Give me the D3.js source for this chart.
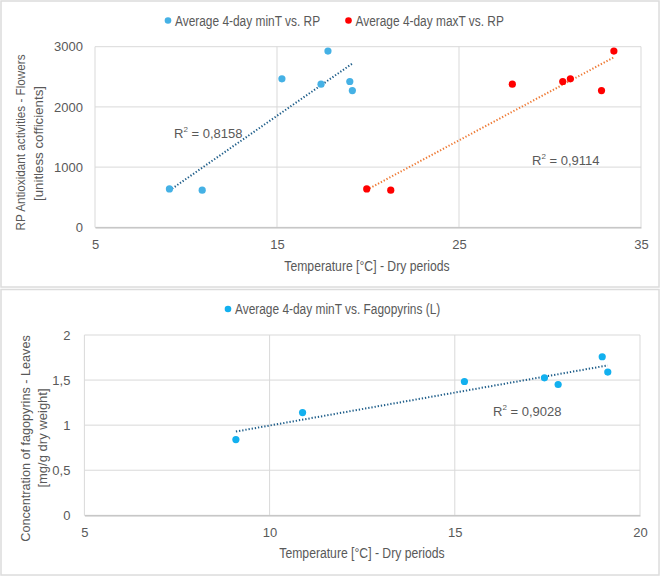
<!doctype html>
<html>
<head>
<meta charset="utf-8">
<script src="https://d3js.org/d3.v7.min.js"></script>
<style>
  body { margin: 0; background: #fff; }
  svg text { fill: #595959; font-family: "Liberation Sans", Arial, sans-serif; }
</style>
</head>
<body>
<script>

  // chart 1 : RP antioxidant activity vs temperature
  var minT1 = [9.09, 10.89, 15.27, 17.42, 17.8, 19.0, 19.14];
  var maxT1 = [19.93, 21.25, 31.12, 27.93, 33.51, 30.70, 32.83];
  var rp1 = [638, 617, 2467, 2377, 2927, 2422, 2272];
  var xTicks1 = [5, 15, 25, 35];
  var yTicks1 = [0, 1000, 2000, 3000];

  // chart 2 : fagopyrins in leaves
  var minT2 = [9.09, 10.89, 15.26, 17.42, 17.79, 18.98, 19.13];
  var fago2 = [0.84, 1.14, 1.484, 1.525, 1.451, 1.759, 1.589];
  var xTicks2 = [5, 10, 15, 20];
  var yTicks2 = [0, 0.5, 1, 1.5, 2];

  var blue = "#45b1e5", blue2 = "#12b0ef", red = "#ff0000";
  var trendBlue = "#1f5e8a", trendOrange = "#ee7a35";
  var grid = "#d9d9d9";

  var W = 662, H = 577;
  var svg = d3.select("body").append("svg").attr("width", W).attr("height", H);

  // chart frames
  svg.append("rect").attr("x", 1).attr("y", 1).attr("width", 658).attr("height", 286)
     .attr("fill", "#fff").attr("stroke", "#dcdcdc").attr("stroke-width", 1.5);
  svg.append("rect").attr("x", 1).attr("y", 289.5).attr("width", 658).attr("height", 285.5)
     .attr("fill", "#fff").attr("stroke", "#dcdcdc").attr("stroke-width", 1.5);

  function fmt(d) { return String(d).replace(".", ","); }

  // squeeze a text to look like excel's narrow font
  function squeeze(sel, k) {
    var len = sel.node().getComputedTextLength();
    sel.attr("textLength", len * k).attr("lengthAdjust", "spacingAndGlyphs");
  }

  function linreg(xs, ys) {
    var n = xs.length, mx = d3.mean(xs), my = d3.mean(ys), sxy = 0, sxx = 0;
    for (var i = 0; i < n; i++) { sxy += (xs[i]-mx)*(ys[i]-my); sxx += (xs[i]-mx)*(xs[i]-mx); }
    var b = sxy / sxx;
    return { a: my - b*mx, b: b };
  }

  function drawPanel(g, cfg) {
    var x = d3.scaleLinear().domain(cfg.xDomain).range(cfg.xRange);
    var y = d3.scaleLinear().domain(cfg.yDomain).range(cfg.yRange);

    // grid
    g.selectAll(".hg").data(cfg.yTicks).enter().append("line")
      .attr("x1", cfg.xRange[0]).attr("x2", cfg.xRange[1])
      .attr("y1", function(d){ return y(d); }).attr("y2", function(d){ return y(d); })
      .attr("stroke", grid).attr("stroke-width", 1);
    g.selectAll(".vg").data(cfg.xTicks).enter().append("line")
      .attr("y1", cfg.yRange[0]).attr("y2", cfg.yRange[1])
      .attr("x1", function(d){ return x(d); }).attr("x2", function(d){ return x(d); })
      .attr("stroke", grid).attr("stroke-width", 1);

    // axes
    var xa = g.append("g").attr("transform", "translate(0," + cfg.yRange[0] + ")")
      .call(d3.axisBottom(x).tickValues(cfg.xTicks).tickSize(0).tickPadding(12).tickFormat(fmt));
    xa.select(".domain").attr("stroke", "#bfbfbf").attr("stroke-width", 1.2);
    xa.selectAll("text").style("font-family", null).style("font-size", "13px").style("fill", "#595959");
    var ya = g.append("g").attr("transform", "translate(" + cfg.xRange[0] + ",0)")
      .call(d3.axisLeft(y).tickValues(cfg.yTicks).tickSize(0).tickPadding(cfg.yPad).tickFormat(fmt));
    ya.select(".domain").remove();
    ya.selectAll("text").style("font-size", "13px").style("fill", "#595959");
    xa.attr("font-family", null); ya.attr("font-family", null);

    // trendlines + points
    cfg.series.forEach(function(s) {
      var r = linreg(s.xs, s.ys);
      var x0 = d3.min(s.xs), x1 = d3.max(s.xs);
      g.append("line")
        .attr("x1", x(x0)).attr("y1", y(r.a + r.b*x0))
        .attr("x2", x(x1)).attr("y2", y(r.a + r.b*x1))
        .attr("stroke", s.trend).attr("stroke-width", 2)
        .attr("stroke-dasharray", "1.3 1.9");
      g.selectAll(null).data(s.xs).enter().append("circle")
        .attr("cx", function(d){ return x(d); })
        .attr("cy", function(d, i){ return y(s.ys[i]); })
        .attr("r", 3.6).attr("fill", s.color);
      var t = g.append("text").style("font-size", "13px")
        .attr("x", s.r2pos[0]).attr("y", s.r2pos[1]).attr("dominant-baseline", "middle");
      t.append("tspan").text("R");
      t.append("tspan").attr("dy", -5).style("font-size", "8px").text("2");
      t.append("tspan").attr("dy", 5).text(" = " + s.r2);
    });

    // legend
    cfg.legend.forEach(function(l) {
      g.append("circle").attr("cx", l.x).attr("cy", l.y).attr("r", 3.3).attr("fill", l.color);
      var lt = g.append("text").style("font-size", "14px")
        .attr("x", l.x + 7).attr("y", l.y).attr("dominant-baseline", "central").text(l.text);
      squeeze(lt, 0.85);
    });

    // axis titles
    var xt = g.append("text").style("font-size", "14px")
      .attr("x", cfg.xTitle[0]).attr("y", cfg.xTitle[1]).attr("text-anchor", "middle")
      .attr("dominant-baseline", "central").text("Temperature [°C] - Dry periods");
    squeeze(xt, 0.87);
    cfg.yTitle.forEach(function(yt) {
      var t = g.append("text").style("font-size", "13.3px")
        .attr("transform", "translate(" + yt.x + "," + yt.y + ") rotate(-90)")
        .attr("text-anchor", "middle").attr("dominant-baseline", "central").text(yt.text);
      squeeze(t, yt.k);
    });
  }

  drawPanel(svg.append("g"), {
    xDomain: [5, 35], xRange: [95, 641], yDomain: [0, 3000], yRange: [227.3, 46.7],
    xTicks: xTicks1, yTicks: yTicks1, yPad: 12,
    series: [
      { xs: minT1, ys: rp1, color: blue, trend: trendBlue, r2: "0,8158", r2pos: [174, 135] },
      { xs: maxT1, ys: rp1, color: red, trend: trendOrange, r2: "0,9114", r2pos: [532, 162] }
    ],
    legend: [
      { x: 168, y: 20.5, color: blue, text: "Average 4-day minT vs. RP" },
      { x: 348.5, y: 20.5, color: red, text: "Average 4-day maxT vs. RP" }
    ],
    xTitle: [367, 266],
    yTitle: [
      { x: 20, y: 142.5, k: 0.88, text: "RP Antioxidant activities - Flowers" },
      { x: 38, y: 143.5, k: 1.0, text: "[unitless cofficients]" }
    ]
  });

  drawPanel(svg.append("g"), {
    xDomain: [5, 20], xRange: [84.4, 640], yDomain: [0, 2], yRange: [515.3, 335],
    xTicks: xTicks2, yTicks: yTicks2, yPad: 14,
    series: [
      { xs: minT2, ys: fago2, color: blue2, trend: trendBlue, r2: "0,9028", r2pos: [493, 413] }
    ],
    legend: [
      { x: 228, y: 309, color: blue2, text: "Average 4-day minT vs. Fagopyrins (L)" }
    ],
    xTitle: [362, 553],
    yTitle: [
      { x: 25, y: 438.5, k: 0.95, text: "Concentration of fagopyrins - Leaves" },
      { x: 42, y: 438, k: 0.98, text: "[mg/g dry weight]" }
    ]
  });

</script>
</body>
</html>
